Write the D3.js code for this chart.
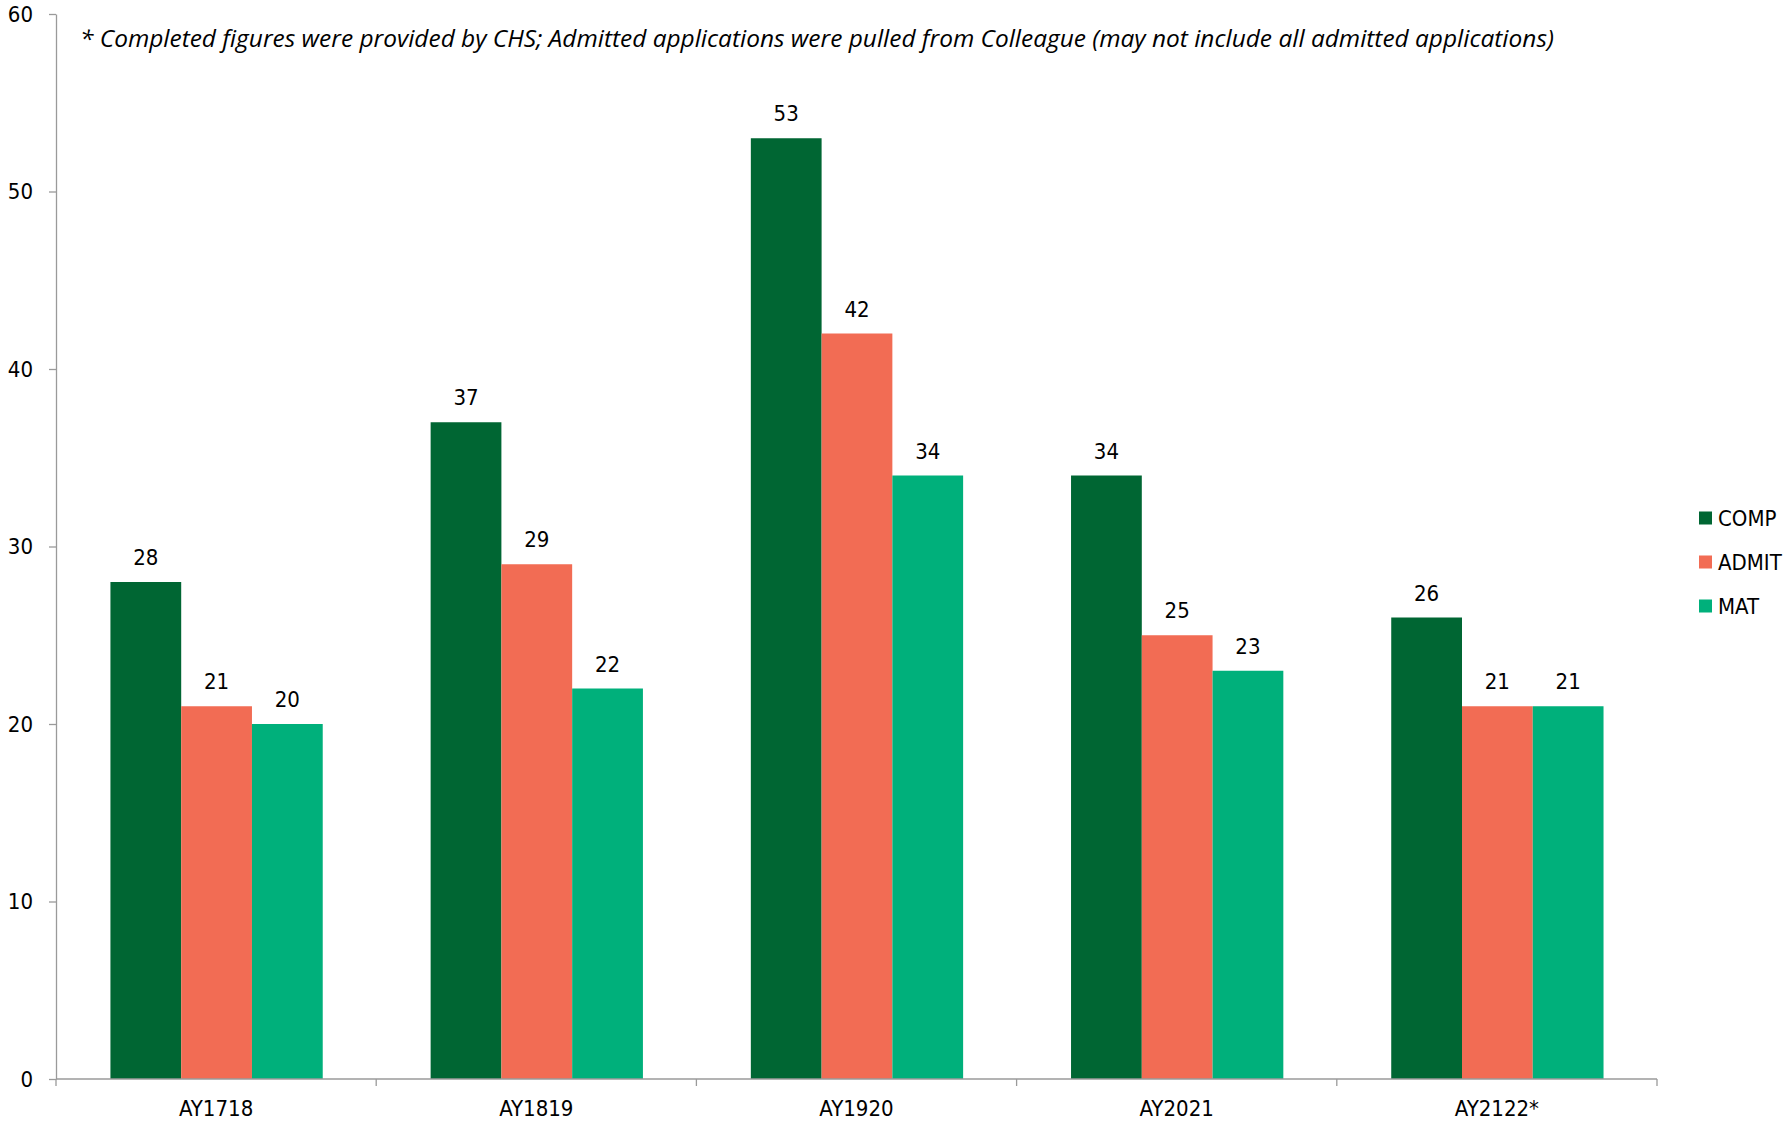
<!DOCTYPE html>
<html>
<head>
<meta charset="utf-8">
<script src="https://cdn.jsdelivr.net/npm/d3@7"></script>
<style>
  html, body { margin: 0; padding: 0; background: #fff; }
  svg { display: block; }
  .lbl { font-family: 'DejaVu Sans Condensed', 'DejaVu Sans', sans-serif; font-stretch: condensed; }
</style>
</head>
<body>
<svg id="chart" width="1784" height="1138"></svg>
<script>
const categories = ["AY1718", "AY1819", "AY1920", "AY2021", "AY2122*"];
const seriesNames = ["COMP", "ADMIT", "MAT"];
const compValues = [28, 37, 53, 34, 26];
const admitValues = [21, 29, 42, 25, 21];
const matValues = [20, 22, 34, 23, 21];
const yTicks = [0, 10, 20, 30, 40, 50, 60];
const seriesColors = ["#006633", "#F26C54", "#00B07B"];
const noteText = "* Completed figures were provided by CHS; Admitted applications were pulled from Colleague (may not include all admitted applications)";

const seriesValues = [compValues, admitValues, matValues];
const svg = d3.select("#chart");
const axisColor = "#9a9a9a";

const plotLeft = 56, plotRight = 1657, plotTop = 14, plotBottom = 1079;

const x = d3.scaleBand().domain(categories).range([plotLeft, plotRight]).paddingInner(0).paddingOuter(0);
const xInner = d3.scaleBand().domain(seriesNames)
  .range([x.bandwidth() * 0.17, x.bandwidth() * 0.833]).padding(0);
const y = d3.scaleLinear().domain([0, 60]).range([plotBottom, plotTop]);

// bars
categories.forEach((cat, ci) => {
  const g = svg.append("g").attr("transform", `translate(${x(cat)},0)`);
  seriesNames.forEach((s, si) => {
    const v = seriesValues[si][ci];
    g.append("rect")
      .attr("x", xInner(s))
      .attr("y", y(v))
      .attr("width", xInner.bandwidth())
      .attr("height", y(0) - y(v))
      .attr("fill", seriesColors[si]);
    g.append("text")
      .attr("class", "lbl")
      .attr("x", xInner(s) + xInner.bandwidth() / 2)
      .attr("y", y(v) - 17)
      .attr("text-anchor", "middle")
      .attr("font-size", 22)
      .attr("fill", "#000")
      .text(v);
  });
});

// y axis
const yAxis = d3.axisLeft(y).tickValues(yTicks).tickSize(7).tickPadding(16).tickSizeOuter(0);
const yg = svg.append("g").attr("transform", `translate(${plotLeft},0)`).call(yAxis);
yg.attr("font-family", null);
yg.select(".domain").attr("stroke", axisColor).attr("stroke-width", 1.3);
yg.selectAll(".tick line").attr("stroke", axisColor).attr("stroke-width", 1.3);
yg.selectAll(".tick text").attr("class", "lbl").attr("font-size", 22).attr("fill", "#000");

// x axis
const xg = svg.append("g").attr("transform", `translate(0,${plotBottom})`);
xg.append("line").attr("x1", plotLeft).attr("x2", plotRight).attr("y1", 0).attr("y2", 0)
  .attr("stroke", axisColor).attr("stroke-width", 1.3);
const boundaries = categories.map(c => x(c)).concat([x(categories[categories.length - 1]) + x.bandwidth()]);
xg.selectAll("line.tk").data(boundaries).enter().append("line")
  .attr("x1", d => d).attr("x2", d => d).attr("y1", 0).attr("y2", 7)
  .attr("stroke", axisColor).attr("stroke-width", 1.3);
xg.selectAll("text.lbl").data(categories).enter().append("text")
  .attr("class", "lbl")
  .attr("x", d => x(d) + x.bandwidth() / 2)
  .attr("y", 37)
  .attr("text-anchor", "middle")
  .attr("font-size", 22)
  .attr("fill", "#000")
  .text(d => d);

// note
const note = svg.append("text")
  .attr("x", 80).attr("y", 47)
  .attr("font-family", "'Open Sans', 'Noto Sans', sans-serif")
  .attr("font-style", "italic")
  .attr("font-size", 21)
  .attr("fill", "#000")
  .text(noteText);
const w = note.node().getComputedTextLength();
if (w > 0) note.attr("font-size", 21 * 1475 / w);

// legend
const lg = svg.append("g");
seriesNames.forEach((s, i) => {
  const yy = 518 + i * 44;
  lg.append("rect").attr("x", 1699).attr("y", yy - 6.5).attr("width", 13).attr("height", 13).attr("fill", seriesColors[i]);
  lg.append("text").attr("class", "lbl").attr("x", 1718).attr("y", yy + 7.5)
    .attr("font-size", 22).attr("fill", "#000").text(s);
});
</script>
</body>
</html>
